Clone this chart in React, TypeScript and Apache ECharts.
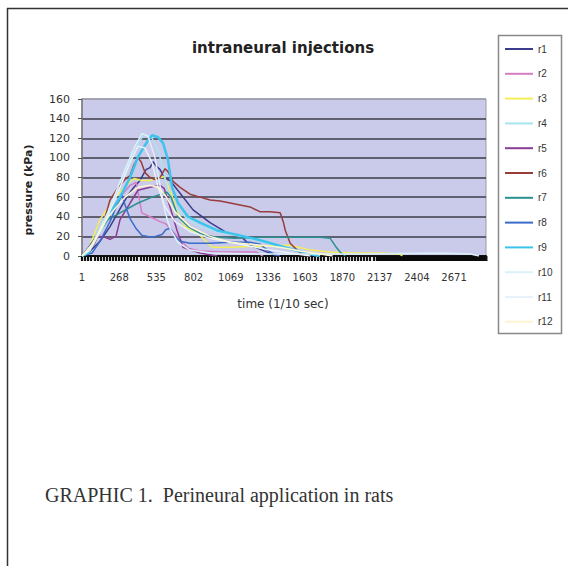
import React, { useEffect, useRef } from "react";
import * as echarts from "echarts";

// time categories (1/10 sec)
const timeCategories: string[] = Array.from({ length: 2900 }, (_, i) => String(i + 1));

// [time, pressure kPa]
const r1 = [[1,0],[58,5],[130,15],[202,30],[274,48],[331,62],[374,70],[417,77],[460,88],[489,90],[511,96],[532,92],[561,88],[597,79],[633,77],[705,64],[798,47],[920,34],[1036,24],[1150,19],[1207,11],[1330,4],[1400,0]];
const r2 = [[1,0],[58,8],[130,28],[202,45],[274,60],[346,72],[389,75],[410,60],[430,44],[489,40],[561,35],[600,33],[633,28],[690,19],[762,8],[848,5],[1000,4],[1250,4],[1300,0]];
const r3 = [[1,0],[44,6],[130,37],[223,57],[331,74],[374,79],[430,77],[489,77],[540,79],[590,81],[640,64],[690,44],[741,30],[834,23],[935,9],[1064,9],[1280,10],[1495,11],[1640,6],[1780,4],[1925,3],[2141,3],[2280,2],[2300,0]];
const r4 = [[1,0],[58,8],[166,40],[274,72],[360,100],[417,118],[453,124],[504,120],[547,108],[583,88],[618,66],[669,50],[741,40],[848,30],[992,24],[1135,20],[1280,15],[1430,10],[1570,5],[1710,0]];
const r5 = [[1,0],[44,8],[94,18],[130,20],[166,19],[202,17],[245,20],[274,37],[346,54],[403,67],[489,70],[561,72],[590,69],[633,50],[683,26],[726,9],[848,3],[970,0]];
const r6 = [[1,0],[44,3],[94,14],[152,32],[202,57],[260,70],[310,78],[346,82],[374,93],[403,100],[425,96],[453,85],[489,80],[525,78],[561,80],[597,89],[618,86],[654,76],[705,70],[776,63],[848,60],[920,57],[992,56],[1064,54],[1135,52],[1207,50],[1280,45],[1350,45],[1423,44],[1445,35],[1460,26],[1495,13],[1566,3],[1610,0]];
const r7 = [[1,0],[58,10],[116,22],[188,37],[274,44],[403,54],[504,60],[611,65],[640,60],[690,40],[762,30],[848,23],[970,19],[1100,18],[1280,19],[1500,19],[1710,19],[1782,18],[1820,10],[1853,4],[1890,0]];
const r8 = [[1,0],[73,3],[130,15],[202,35],[252,52],[288,62],[310,52],[346,38],[389,28],[432,21],[504,19],[575,22],[604,27],[633,28],[669,20],[705,15],[776,13],[920,13],[1064,14],[1207,14],[1280,12],[1330,6],[1380,2],[1420,0]];
const r9 = [[1,0],[44,3],[130,26],[274,60],[346,80],[403,101],[475,118],[504,123],[547,121],[583,115],[618,98],[647,70],[690,54],[762,40],[848,34],[970,26],[1135,21],[1280,16],[1430,10],[1530,6],[1640,2],[1700,0]];
const r10 = [[1,0],[73,10],[188,45],[310,88],[382,112],[432,125],[475,122],[525,100],[561,72],[597,45],[633,28],[690,14],[776,6],[920,3],[1280,2],[2000,2],[2570,3],[2790,2],[2850,0]];
const r11 = [[1,0],[58,6],[152,30],[260,65],[346,95],[403,112],[453,110],[504,95],[547,70],[597,50],[669,35],[776,25],[920,18],[1064,14],[1207,10],[1351,6],[1495,3],[1640,0]];
const r12 = [[1,0],[73,12],[188,40],[310,60],[403,70],[489,72],[547,70],[597,62],[669,45],[776,30],[920,20],[1064,14],[1207,12],[1423,9],[1566,5],[1710,2],[1800,0]];

const seriesNames = ["r1","r2","r3","r4","r5","r6","r7","r8","r9","r10","r11","r12"];
const seriesValues = [r1, r2, r3, r4, r5, r6, r7, r8, r9, r10, r11, r12];
const seriesColors = ["#3c3c8c","#d47cc4","#f2ee5a","#a8e4f0","#8a3c96","#983c3c","#2a9090","#3a6cc8","#3cc4ec","#dcf0fa","#e8f2f8","#fcf6d0"];
const seriesWidths = [1.5,1.5,1.5,1.5,1.5,1.5,1.5,1.5,2.5,1.5,1.5,1.5];

export default function App() {
  const ref = useRef<HTMLDivElement>(null);
  useEffect(() => {
    document.body.style.margin = "0";
    const chart = echarts.init(ref.current!, null, { renderer: "svg" });
    const gridColors = ["#3c3c48","#3c3c48","#3c3c48","#3c3c48","#3c3c48","#3c3c48","#3c3c48","#3c3c48","#9a9aa8"];
    chart.setOption({
      animation: false,
      backgroundColor: "#ffffff",
      grid: { left: 82, top: 99, width: 404, height: 157, show: true, backgroundColor: "#cacaea", borderColor: "#9a9aa8", borderWidth: 1 },
      xAxis: {
        type: "category",
        data: timeCategories,
        boundaryGap: false,
        axisLine: { lineStyle: { color: "#111", width: 2 } },
        axisTick: { show: true, length: 5, interval: (i: number) => i >= 2118 || i % 22 === 0, lineStyle: { color: "#111", width: 2.2 } },
        axisLabel: { interval: 266, margin: 16, fontSize: 10, fontFamily: "DejaVu Sans", color: "#333" },
        splitLine: { show: false },
      },
      yAxis: {
        type: "value",
        min: 0,
        max: 160,
        interval: 20,
        axisLine: { show: true, lineStyle: { color: "#777", width: 1.5 } },
        axisTick: { show: true, length: 4, lineStyle: { color: "#555" } },
        axisLabel: { margin: 12, fontSize: 11, fontFamily: "DejaVu Sans", color: "#333" },
        splitLine: { show: true, lineStyle: { color: gridColors, width: 1.5 } },
      },
      legend: {
        orient: "vertical",
        left: 505,
        top: 44,
        icon: "rect",
        itemWidth: 28,
        itemHeight: 2,
        itemGap: 14.8,
        padding: 0,
        data: seriesNames,
        textStyle: { fontSize: 10, fontFamily: "Liberation Sans", color: "#333" },
      },
      series: seriesNames.map((name, k) => ({
        name,
        type: "line",
        symbol: "none",
        showSymbol: false,
        data: seriesValues[k].map(([t, v]) => [t - 1, v]),
        lineStyle: { color: seriesColors[k], width: seriesWidths[k] },
        itemStyle: { color: seriesColors[k] },
      })),
      graphic: [
        { type: "line", shape: { x1: 7.5, y1: 8, x2: 7.5, y2: 566 }, style: { stroke: "#333", lineWidth: 1.5 } },
        { type: "line", shape: { x1: 7, y1: 8.5, x2: 568, y2: 8.5 }, style: { stroke: "#333", lineWidth: 1.5 } },
        { type: "rect", shape: { x: 498.5, y: 35.5, width: 63, height: 298 }, style: { fill: "none", stroke: "#888", lineWidth: 1.5 } },
        { type: "text", x: 283, y: 48, style: { text: "intraneural injections", fontFamily: "DejaVu Sans", fontWeight: "bold", fontSize: 15, fill: "#222", align: "center", verticalAlign: "middle" } },
        { type: "text", x: 28, y: 190, rotation: Math.PI / 2, style: { text: "pressure (kPa)", fontFamily: "DejaVu Sans", fontWeight: "bold", fontSize: 11, fill: "#222", align: "center", verticalAlign: "middle" } },
        { type: "text", x: 283, y: 304, style: { text: "time (1/10 sec)", fontFamily: "DejaVu Sans", fontSize: 12, fill: "#333", align: "center", verticalAlign: "middle" } },
        { type: "text", x: 45, y: 495, style: { text: "GRAPHIC 1.  Perineural application in rats", fontFamily: "Liberation Serif", fontSize: 20, fill: "#333", align: "left", verticalAlign: "middle" } },
      ],
    });
    return () => chart.dispose();
  }, []);
  return <div ref={ref} style={{ width: 568, height: 566 }} />;
}
